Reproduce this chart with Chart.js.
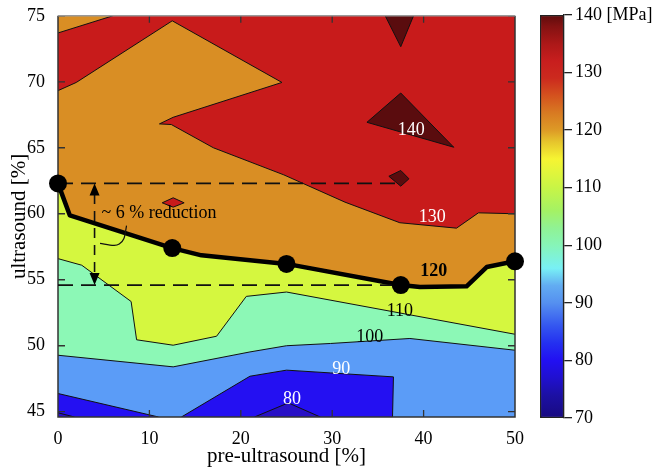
<!DOCTYPE html>
<html lang="en">
<head>
<meta charset="UTF-8">
<title>Tensile strength contour</title>
<script src="https://cdn.jsdelivr.net/npm/chart.js"></script>
<style>
  body { margin: 0; background: #fff; }
  .wrap { position: relative; width: 655px; height: 473px; }
  #contour { position: absolute; left: 0; top: 0; }
  #colorbar { position: absolute; left: 530px; top: 0; }
</style>
</head>
<body>
<div class="wrap">
  <canvas id="contour" width="530" height="473"></canvas>
  <canvas id="colorbar" width="125" height="473"></canvas>
</div>
<script>
  // axes
  const xRange = [0, 50];
  const yRange = [44.6, 75];
  const xTicks = [0, 10, 20, 30, 40, 50];
  const yTicks = [45, 50, 55, 60, 65, 70, 75];
  const cbTicks = [70, 80, 90, 100, 110, 120, 130, 140];

  // contour lines: [pre-ultrasound %, ultrasound %]
  const c80a = [[0, 44.92], [1.8, 44.6]];
  const c80b = [[21.5, 44.6], [25.2, 45.67], [28.7, 44.6]];
  const c90a = [[0, 46.38], [11.0, 44.6]];
  const c90b = [[13.5, 44.6], [21.0, 47.69], [25.0, 48.15], [29.8, 47.94], [36.7, 47.64], [36.6, 44.6]];
  const c100 = [[0, 49.28], [12.6, 48.4], [21.0, 49.53], [25.0, 50.0], [29.8, 50.17], [38.5, 50.55], [50, 49.66]];
  const c110 = [[0, 56.6], [2.6, 56.1], [8.0, 53.35], [8.6, 50.45], [12.6, 50.04], [17.35, 50.72], [20.6, 53.74], [25.0, 54.07], [50, 50.87]];
  const c120 = [[0, 62.3], [1.3, 59.87], [12.5, 57.4], [15.7, 56.85], [25, 56.2], [37.5, 54.6], [39.6, 54.45], [44.7, 54.5], [46.9, 55.96], [50, 56.4]];
  const c130a = [[0, 73.7], [6.0, 75]];
  const c130b = [[0, 69.33], [2.0, 69.95], [12.5, 74.62], [24.5, 69.95], [12.6, 67.31], [11.1, 66.81], [12.4, 66.76], [17.0, 65.0], [24.7, 62.95], [31.4, 60.88], [37.4, 59.32], [43.6, 58.91], [46.0, 60.07], [50, 60.0]];
  const c130c = [[11.4, 60.83], [12.6, 61.21], [13.8, 60.83], [12.6, 60.5]];
  const c140a = [[35.8, 75], [37.5, 72.66], [38.9, 75]];
  const c140b = [[37.5, 69.15], [33.8, 66.93], [43.3, 65.04]];
  const c140c = [[36.2, 62.84], [37.5, 63.28], [38.4, 62.65], [37.5, 62.09]];

  // marked points on the 120 MPa line
  const optX = [0, 12.5, 25, 37.5, 50];
  const optY = [62.3, 57.4, 56.2, 54.6, 56.4];
  const arrowX = 4.0;
  const leader = [[7.5, 59.1], [7.2, 58.1], [6.7, 57.7], [6.1, 57.6], [4.6, 57.75]];

  const levelLabels = [
    { text: '140', x: 38.65, y: 66.3, color: '#fff' },
    { text: '130', x: 40.95, y: 59.74, color: '#fff' },
    { text: '120', x: 41.1, y: 55.6, color: '#000', bold: true },
    { text: '110', x: 37.4, y: 52.6, color: '#000' },
    { text: '100', x: 34.1, y: 50.62, color: '#000' },
    { text: '90', x: 31.0, y: 48.2, color: '#fff' },
    { text: '80', x: 25.6, y: 45.93, color: '#fff' }
  ];

  const bandColor = {
    70: '#2810c6', 80: '#2410f2', 90: '#5b9cf7', 100: '#8cf8b6',
    110: '#d5f73f', 120: '#d98e24', 130: '#c81b1b', 140: '#5a0c0e'
  };

  // colour bar (stress in MPa -> colour)
  const cmap = [
    [70, '#180a80'], [74, '#1c10a4'], [77, '#2010d0'], [80, '#2210f2'], [83, '#2430f0'],
    [86, '#3456f0'], [90, '#5590f0'], [93, '#62acf2'], [96, '#78f0f5'], [100, '#86f5b8'],
    [103, '#90f294'], [106, '#a4f264'], [110, '#c8f546'], [113, '#e4f53a'], [115, '#f6f432'],
    [118, '#e6c42c'], [120, '#dd9a26'], [123, '#d87a22'], [126, '#d4521e'], [129, '#cc2a1e'],
    [132, '#c81e1e'], [135, '#ac1818'], [138, '#841212'], [140, '#5e0c0c']
  ];

  const serif = "'Liberation Serif', 'DejaVu Serif', serif";
  const toXY = a => a.map(([x, y]) => ({ x, y }));
  const closed = a => [...a, a[0]];

  // filled bands, bottom first
  const fills = [
    { poly: [[xRange[0], yRange[0]], [xRange[1], yRange[0]], [xRange[1], yRange[1]], [xRange[0], yRange[1]]], band: 80 },
    { poly: [[0, 44.6], ...c80a], band: 70 },
    { poly: c80b, band: 70 },
    { poly: [...c90a, ...c90b, [50, 44.6], [50, 75], [0, 75]], band: 90 },
    { poly: [...c100, [50, 75], [0, 75]], band: 100 },
    { poly: [...c110, [50, 75], [0, 75]], band: 110 },
    { poly: [...c120, [50, 75], [0, 75]], band: 120 },
    { poly: [...c130b, [50, 75], ...c130a.slice().reverse()], band: 130 },
    { poly: c130c, band: 130 },
    { poly: c140a, band: 140 },
    { poly: c140b, band: 140 },
    { poly: c140c, band: 140 }
  ];
  const thinLines = [c80a, c80b, c90a, c90b, c100, c110, c130a, c130b, closed(c130c), c140a, closed(c140b), closed(c140c)];

  const datasets = [];
  fills.forEach(f => datasets.push({
    data: toXY(f.poly), fill: 'shape', backgroundColor: bandColor[f.band],
    borderWidth: 0, pointRadius: 0
  }));
  thinLines.forEach(l => datasets.push({
    data: toXY(l), fill: false, borderColor: '#111', borderWidth: 1, pointRadius: 0
  }));
  const frameIndex = datasets.length - 1;
  datasets.push({ data: toXY(c120), fill: false, borderColor: '#000', borderWidth: 4.5, pointRadius: 0, borderJoinStyle: 'round' });
  // dashed guides between the first and the fourth marked point
  [0, 3].forEach(i => datasets.push({
    data: [{ x: optX[0], y: optY[i] }, { x: optX[3], y: optY[i] }],
    fill: false, borderColor: '#111', borderWidth: 1.8, borderDash: [15, 8], pointRadius: 0
  }));
  datasets.push({
    data: [{ x: arrowX, y: optY[0] - 0.8 }, { x: arrowX, y: optY[3] + 0.8 }],
    fill: false, borderColor: '#111', borderWidth: 1.6, borderDash: [10, 7], pointRadius: 0
  });
  datasets.push({ data: toXY(leader), fill: false, borderColor: '#111', borderWidth: 1.2, pointRadius: 0, tension: 0.3 });
  datasets.push({
    data: optX.map((x, i) => ({ x, y: optY[i] })), showLine: false, clip: false,
    pointRadius: 9, pointBackgroundColor: '#000', pointBorderColor: '#000', pointBorderWidth: 0
  });
  datasets.forEach((d, i) => { d.order = -i; });

  // frame with inward ticks, drawn under the marked points
  const framePlugin = {
    id: 'frame',
    afterDatasetDraw(chart, args) {
      if (args.index !== frameIndex) return;
      const { ctx, chartArea: a, scales: { x, y } } = chart;
      ctx.save();
      ctx.strokeStyle = '#333';
      ctx.lineWidth = 1.3;
      ctx.beginPath();
      xTicks.slice(1, -1).forEach(v => {
        const px = x.getPixelForValue(v);
        ctx.moveTo(px, a.bottom); ctx.lineTo(px, a.bottom - 7);
        ctx.moveTo(px, a.top); ctx.lineTo(px, a.top + 7);
      });
      yTicks.forEach(v => {
        const py = y.getPixelForValue(v);
        ctx.moveTo(a.left, py); ctx.lineTo(a.left + 7, py);
        ctx.moveTo(a.right, py); ctx.lineTo(a.right - 7, py);
      });
      ctx.stroke();
      ctx.lineWidth = 1.5;
      ctx.beginPath();
      ctx.moveTo(a.left, a.top); ctx.lineTo(a.left, a.bottom); ctx.lineTo(a.right, a.bottom); ctx.lineTo(a.right, a.top);
      ctx.stroke();
      ctx.strokeStyle = '#999';
      ctx.beginPath();
      ctx.moveTo(a.left, a.top); ctx.lineTo(a.right, a.top);
      ctx.stroke();
      ctx.restore();
    }
  };

  // level labels, arrow heads and the annotation text
  const notePlugin = {
    id: 'notes',
    afterDatasetsDraw(chart) {
      const { ctx, scales: { x, y } } = chart;
      ctx.save();
      ctx.textAlign = 'center';
      ctx.textBaseline = 'middle';
      levelLabels.forEach(l => {
        ctx.font = (l.bold ? 'bold ' : '') + '18px ' + serif;
        ctx.fillStyle = l.color;
        ctx.fillText(l.text, x.getPixelForValue(l.x), y.getPixelForValue(l.y));
      });
      ctx.font = '18px ' + serif;
      ctx.fillStyle = '#000';
      ctx.textAlign = 'left';
      ctx.fillText('~ 6 % reduction', x.getPixelForValue(4.75), y.getPixelForValue(60.0));

      const ax = x.getPixelForValue(arrowX);
      const top = y.getPixelForValue(optY[0]);
      const bot = y.getPixelForValue(optY[3]);
      ctx.beginPath();
      ctx.moveTo(ax, top); ctx.lineTo(ax - 5, top + 12); ctx.lineTo(ax + 5, top + 12); ctx.closePath();
      ctx.moveTo(ax, bot); ctx.lineTo(ax - 5, bot - 12); ctx.lineTo(ax + 5, bot - 12); ctx.closePath();
      ctx.fill();
      ctx.restore();
    }
  };

  new Chart(document.getElementById('contour'), {
    type: 'line',
    data: { datasets },
    options: {
      responsive: false,
      animation: false,
      events: [],
      layout: { padding: { top: 14, right: 15, left: 0, bottom: 0 } },
      plugins: { legend: { display: false }, tooltip: { enabled: false } },
      scales: {
        x: {
          type: 'linear', min: xRange[0], max: xRange[1],
          grid: { display: false }, border: { display: false },
          afterBuildTicks: s => { s.ticks = xTicks.map(v => ({ value: v })); },
          afterFit: s => { s.height = 56; },
          ticks: { font: { family: serif, size: 18 }, color: '#000', padding: 3, maxRotation: 0 },
          title: { display: true, text: 'pre-ultrasound [%]', color: '#000', font: { family: serif, size: 21 }, padding: { top: 0, bottom: 4 } }
        },
        y: {
          type: 'linear', min: yRange[0], max: yRange[1],
          grid: { display: false }, border: { display: false },
          afterBuildTicks: s => { s.ticks = yTicks.map(v => ({ value: v })); },
          afterFit: s => { s.width = 58; },
          ticks: { font: { family: serif, size: 18 }, color: '#000', padding: 5 },
          title: { display: true, text: 'ultrasound [%]', color: '#000', font: { family: serif, size: 21 }, padding: { top: 7, bottom: 0 } }
        }
      }
    },
    plugins: [framePlugin, notePlugin]
  });

  new Chart(document.getElementById('colorbar'), {
    type: 'bar',
    data: {
      labels: [''],
      datasets: [{
        data: [[cbTicks[0], cbTicks[cbTicks.length - 1]]],
        backgroundColor: c => {
          const chart = c.chart;
          if (!chart.chartArea) return bandColor[100];
          const s = chart.scales.y;
          const lo = cbTicks[0], hi = cbTicks[cbTicks.length - 1];
          const g = chart.ctx.createLinearGradient(0, s.getPixelForValue(lo), 0, s.getPixelForValue(hi));
          cmap.forEach(([v, col]) => g.addColorStop((v - lo) / (hi - lo), col));
          return g;
        },
        borderColor: '#222',
        borderWidth: 1.5,
        borderSkipped: false,
        barPercentage: 1,
        categoryPercentage: 1
      }]
    },
    options: {
      responsive: false,
      animation: false,
      events: [],
      layout: { padding: { top: 15, bottom: 55, left: 10, right: 0 } },
      plugins: { legend: { display: false }, tooltip: { enabled: false } },
      scales: {
        x: { display: false },
        y: {
          position: 'right',
          min: cbTicks[0], max: cbTicks[cbTicks.length - 1],
          afterBuildTicks: s => { s.ticks = cbTicks.map(v => ({ value: v })); },
          afterFit: s => { s.width = 91; },
          grid: { drawOnChartArea: false, drawTicks: true, tickLength: 8, color: '#222', lineWidth: 1.3 },
          border: { color: '#222', width: 1.3 },
          ticks: {
            font: { family: serif, size: 18 }, color: '#000', padding: 3,
            callback: v => v === 140 ? '140 [MPa]' : String(v)
          }
        }
      }
    }
  });
</script>
</body>
</html>
